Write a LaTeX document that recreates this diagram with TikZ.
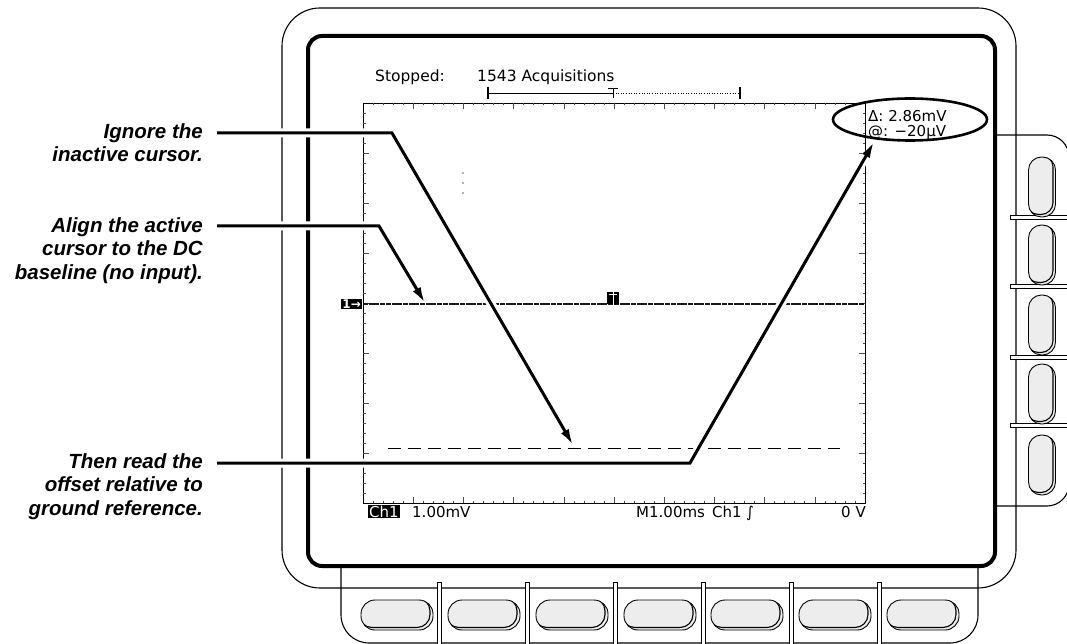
\documentclass[tikz,border=0pt]{standalone}
\usepackage{fontspec}
\setmainfont{Liberation Sans}
\newfontfamily\scrfont{DejaVu Sans}
\usetikzlibrary{arrows.meta, shapes.geometric}
\tikzset{
hbutton/.pic={
  \draw[line width=0.9pt, fill=black!7, rounded corners=14pt] (-36,-15) rectangle (36,15);
  \begin{scope}
    \clip[rounded corners=14pt] (-36,-15) rectangle (36,15);
    \draw[line width=1.1pt, rounded corners=13pt] (-38,-17) rectangle (33,12.5);
  \end{scope}
  },
vbutton/.pic={
  \draw[line width=0.9pt, fill=black!7, rounded corners=13pt] (-13.5,-30) rectangle (13.5,30);
  \begin{scope}
    \clip[rounded corners=13pt] (-13.5,-30) rectangle (13.5,30);
    \draw[line width=1.1pt, rounded corners=12pt] (-15.5,-32) rectangle (11,27.5);
  \end{scope}
  }
}

\begin{document}
\begin{tikzpicture}[x=1pt,y=-1pt,
  bezel/.style={line width=1.1pt},
  tick/.style={line width=0.6pt, black!70},
  leader/.style={line width=3pt, preaction={draw=white, line width=9pt}},
  lbl/.style={font=\fontsize{20.5}{23.5}\selectfont\bfseries\itshape, align=right, inner sep=0pt},
  scr/.style={font=\scrfont\fontsize{15.5}{15.5}\selectfont, inner sep=0pt},
  rdout/.style={font=\scrfont\fontsize{15}{15}\selectfont, inner sep=0pt},
  inv/.style={fill=black, text=white, inner sep=1pt}]
\useasboundingbox (0,0) rectangle (1067,644);

% cabinet, side and bottom panels
\draw[bezel, rounded corners=38pt] (282,8) rectangle (1016,588);
\draw[bezel, rounded corners=22pt] (995,135) -- (1069,135) -- (1069,506) -- (995,506);
\draw[bezel, rounded corners=28pt] (341,560) -- (341,643) -- (978,643) -- (978,560);
\foreach \d in {439,527,615,703,791,879}
  \draw[line width=0.8pt, fill=white] (\d-2,582) rectangle (\d+2,647);
\foreach \d in {217,286,357,425}
  \draw[line width=0.8pt, fill=white] (1010,\d-2) rectangle (1070,\d+2);
\foreach \x in {397,484,572,660,747,835,923}
  \pic at (\x,615) {hbutton};
\foreach \y in {187,255,325,394,465}
  \pic at (1042,\y) {vbutton};

% screen
\draw[line width=4pt, fill=white, rounded corners=14pt] (308,36) rectangle (995,566);

% graticule
\draw[line width=0.9pt] (363,103) rectangle (865,503);
\foreach \i in {1,...,49} {
  \draw[tick] (363+\i*10.04,103) -- ++(0,2.5);
  \draw[tick] (363+\i*10.04,503) -- ++(0,-2.5);
}
\foreach \i in {1,...,9} {
  \draw[tick] (363+\i*50.2,103) -- ++(0,6);
  \draw[tick] (363+\i*50.2,503) -- ++(0,-6);
}
\foreach \j in {1,...,39} {
  \draw[tick] (363,103+\j*10) -- ++(2.5,0);
  \draw[tick] (865,103+\j*10) -- ++(-2.5,0);
}
\foreach \j in {1,...,7} {
  \draw[tick] (363,103+\j*50) -- ++(6,0);
  \draw[tick] (865,103+\j*50) -- ++(-6,0);
}
\foreach \y in {173,183,193}
  \fill[black!60] (463,\y) circle (0.9);

% trace, trigger and cursor
\draw[line width=1.4pt, black!90, dash pattern=on 5pt off 0.7pt] (363,304) -- (865,304);
\node[fill=black, minimum width=12pt, minimum height=12pt, inner sep=0pt, anchor=south] (trig) at (613,304) {};
\draw[white, line width=1pt] ([shift={(2,3)}]trig.north west) -- ([shift={(-2,3)}]trig.north east);
\draw[white, line width=1pt] ([yshift=3]trig.north) -- (trig.south);
\node[inv, font=\scrfont\bfseries\fontsize{12}{12}\selectfont, anchor=east] (gnd) at (362,304) {1→};
\draw[line width=1pt, dash pattern=on 13pt off 7pt] (388,448) -- (840,448);

% status line and record view
\node[scr, anchor=base west] (stop) at (375,82) {Stopped:};
\node[scr, anchor=base west] (acq) at (477,82) {1543 Acquisitions};
\draw[line width=0.6pt] (488,93) -- (613,93);
\draw[line width=0.6pt, dotted] (613,93) -- (740,93);
\draw[line width=1.6pt] (488,87) -- (488,99) (740,87) -- (740,99);
\draw[line width=0.9pt] (608,88) -- (618,88) (613,88) -- (613,98);

% readouts
\node[rdout, anchor=base west] (dlt) at (868,122) {Δ: 2.86mV};
\node[rdout, anchor=base west] (ofs) at (868,136.5) {@: −20µV};
\node[rdout, inv, anchor=base west] (ch) at (368,517) {Ch1};
\node[rdout, anchor=base west] (vdiv) at (412,517) {1.00mV};
\node[rdout, anchor=base west] (tdiv) at (636,517) {M1.00ms};
\node[rdout, anchor=base west] (src) at (712,517) {Ch1};
\node[rdout, anchor=base west] (slope) at (746,517) {∫};
\node[rdout, anchor=base west] (lvl) at (841,517) {0 V};

% callouts
\node[lbl, anchor=north east] (lignore) at (203,123) {Ignore the\\inactive cursor.};
\node[lbl, anchor=north east] (lalign) at (203,217) {Align the active\\cursor to the DC\\baseline (no input).};
\node[lbl, anchor=north east] (lthen) at (203,453) {Then read the\\offset relative to\\ground reference.};
\coordinate (ig1) at (392,133);
\coordinate (igtip) at (573,445);
\coordinate (al1) at (379,226);
\coordinate (altip) at (425,303);
\coordinate (th1) at (690,463);
\coordinate (thtip) at (874,142);
\draw[leader, -{Latex[length=16pt,width=9pt]}] ([shift={(14,10)}]lignore.north east) -- (ig1) -- (igtip);
\draw[leader, -{Latex[length=16pt,width=9pt]}] ([shift={(14,9)}]lalign.north east) -- (al1) -- (altip);
\draw[leader, -{Latex[length=16pt,width=9pt]}] ([shift={(14,10)}]lthen.north east) -- (th1) -- (thtip);
\node[draw, ellipse, line width=2.6pt, minimum width=154pt, minimum height=42pt] (rd) at (910,119.5) {};
\end{tikzpicture}
\end{document}
